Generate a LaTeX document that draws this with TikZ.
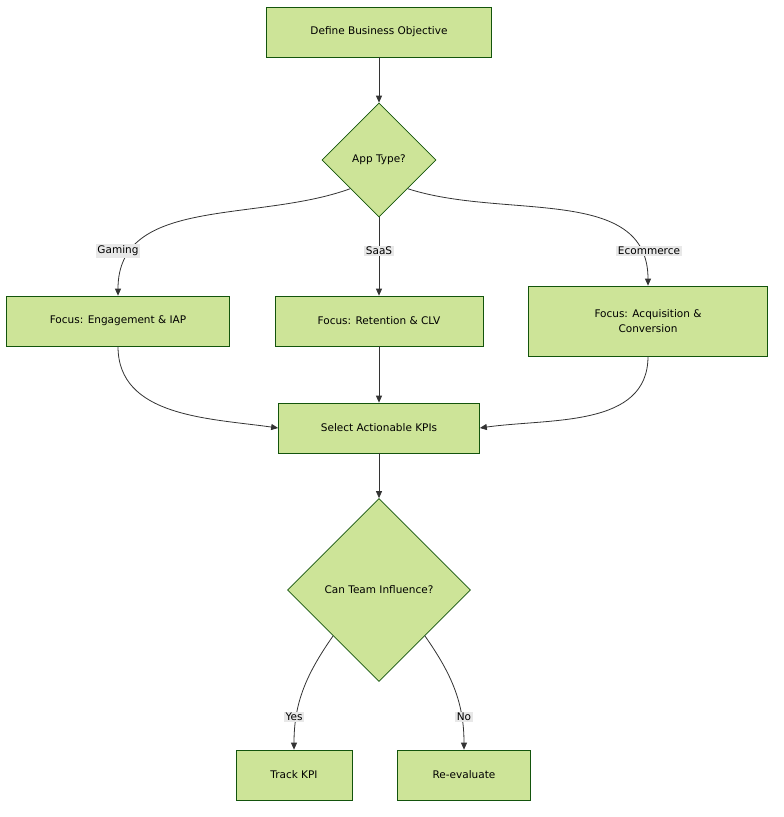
\documentclass[tikz,border=0pt]{standalone}
\usepackage{fontspec}
\setmainfont{DejaVu Sans}
\usetikzlibrary{positioning,shapes.geometric,arrows.meta}
\definecolor{nodefill}{HTML}{CDE498}
\definecolor{nodeline}{HTML}{13540C}
\definecolor{labelbg}{HTML}{E8E8E8}
\tikzset{
  step box/.style={
    rectangle, fill=nodefill, draw=nodeline, line width=0.7pt,
    minimum width={#1pt}, minimum height=50pt,
    font=\fontsize{10.5}{15}\selectfont, align=center,
  },
  choice/.style={
    diamond, fill=nodefill, draw=nodeline, line width=0.7pt,
    minimum size={#1pt}, inner sep=0pt, aspect=1,
    font=\fontsize{10.5}{15}\selectfont,
  },
  flow/.style={draw=black!80, line width=0.8pt, -{Triangle[length=7pt,width=6pt]}},
  edge label/.style={
    fill=labelbg, inner sep=1.5pt, font=\fontsize{10.5}{13}\selectfont,
  }
}
\begin{document}
\begin{tikzpicture}[x=1pt,y=1pt]
  \useasboundingbox (0,0) rectangle (784,-817);
  % nodes
  \node [step box=225] (obj) at (379,-32) {Define Business Objective};
  \node [choice=114] (app) at (379,-160) {App Type?};
  \node [step box=223] (gam) at (118,-321) {Focus: Engagement \& IAP};
  \node [step box=208] (saas) at (379,-321) {Focus: Retention \& CLV};
  \node [step box=239, minimum height=70pt] (eco) at (648,-321) {Focus: Acquisition \&\\Conversion};
  \node [step box=201] (sel) at (379,-428) {Select Actionable KPIs};
  \node [choice=183] (team) at (379,-590) {Can Team Influence?};
  \node [step box=116] (track) at (294,-775) {Track KPI};
  \node [step box=133] (reev) at (464,-775) {Re-evaluate};

  % connectors
  \draw [flow] (obj) -- (app);
  \draw [flow] (app.south west) to[out=200,in=90] (gam.north);
  \draw [flow] (app.south) -- (saas.north);
  \draw [flow] (app.south east) to[out=-18,in=90] (eco.north);
  \draw [flow] (gam.south) to[out=-90,in=172] (sel.west);
  \draw [flow] (saas) -- (sel);
  \draw [flow] (eco.south) to[out=-90,in=8] (sel.east);
  \draw [flow] (sel) -- (team);
  \draw [flow] (team.south west) to[out=-125,in=90] (track.north);
  \draw [flow] (team.south east) to[out=-55,in=90] (reev.north);

  % labels
  \node [edge label] (lg) at (118,-251) {Gaming};
  \node [edge label] (ls) at (379,-251) {SaaS};
  \node [edge label] (le) at (649,-251) {Ecommerce};
  \node [edge label] (ly) at (294,-717) {Yes};
  \node [edge label] (ln) at (464,-717) {No};
\end{tikzpicture}
\end{document}
